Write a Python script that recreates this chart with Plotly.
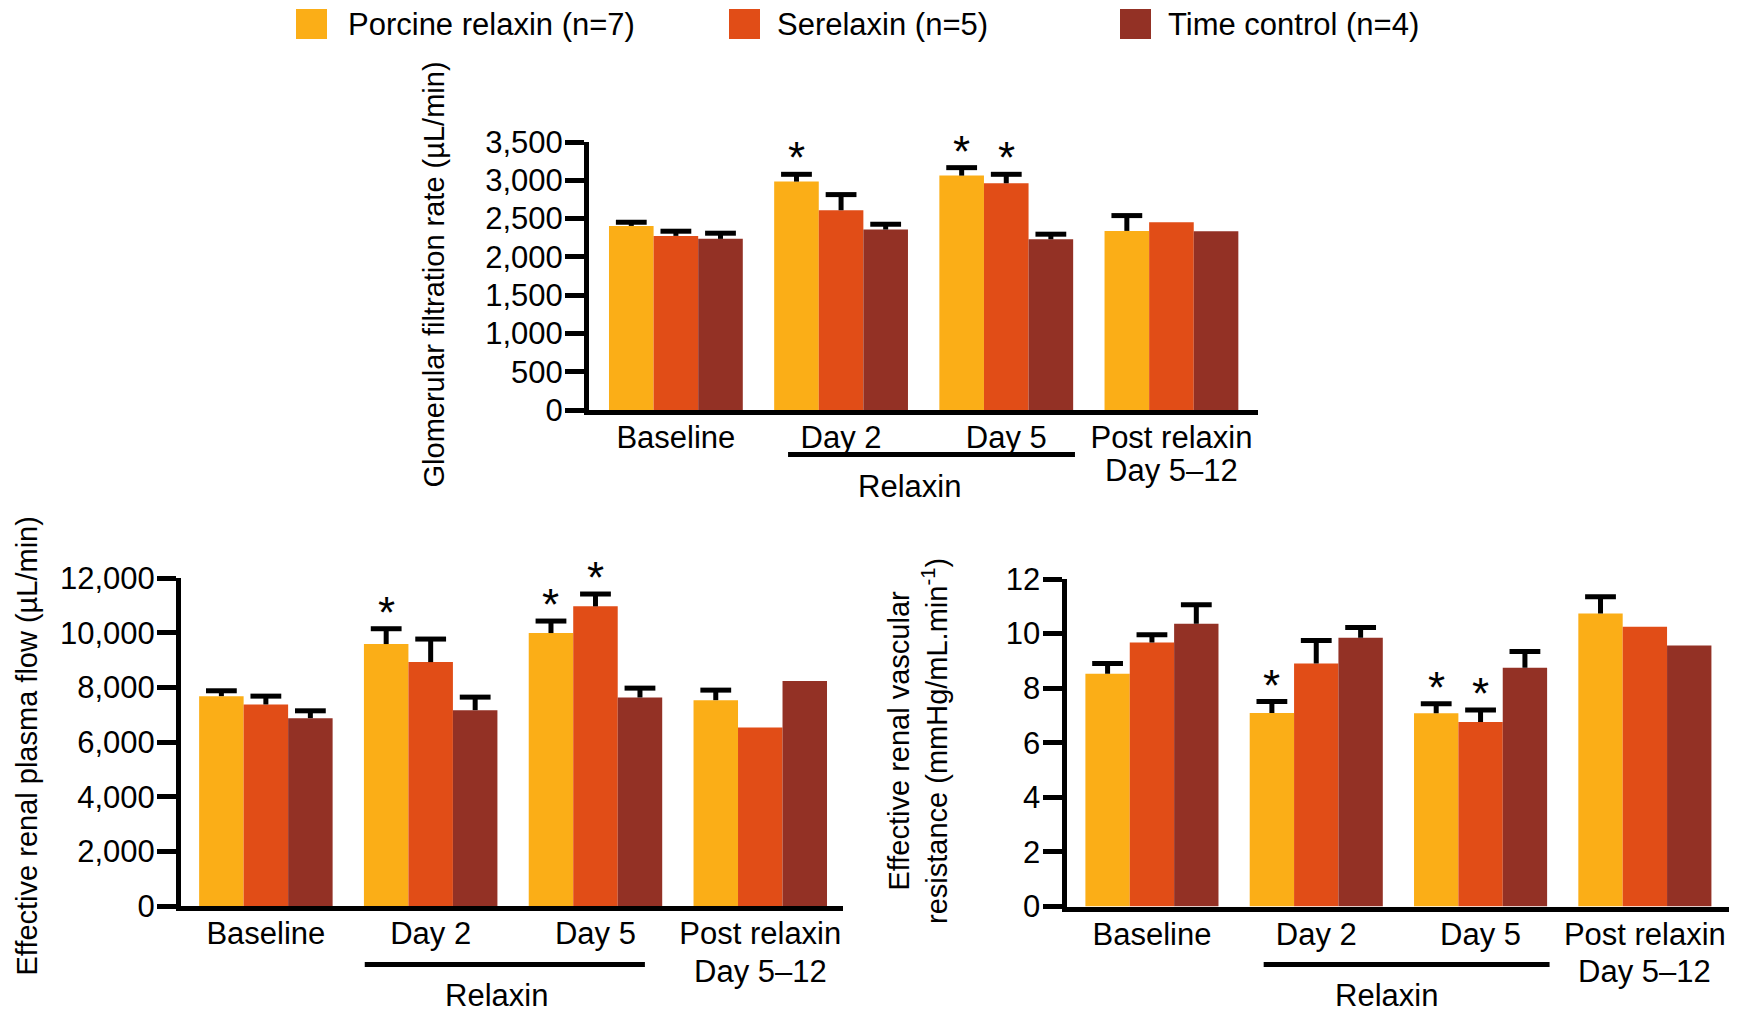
import plotly.graph_objects as go

W, H = 1746, 1013
FONT = "Liberation Sans, Arial, Helvetica, sans-serif"

categories = ["Baseline", "Day 2", "Day 5", "Post relaxin"]
category_sublabels = ["", "", "", "Day 5–12"]
series_names = ["Porcine relaxin (n=7)", "Serelaxin (n=5)", "Time control (n=4)"]
colors = ["#FBAE17", "#E14D17", "#933125"]

# Glomerular filtration rate (µL/min)
gfr_porcine = [2404, 2983, 3061, 2339]
gfr_porcine_err = [48, 95, 104, 200]
gfr_serelaxin = [2274, 2609, 2961, 2452]
gfr_serelaxin_err = [61, 204, 117, None]
gfr_control = [2235, 2357, 2230, 2335]
gfr_control_err = [74, 69, 66, None]
gfr_ticks = [0, 500, 1000, 1500, 2000, 2500, 3000, 3500]

# Effective renal plasma flow (µL/min)
erpf_porcine = [7678, 9583, 9986, 7532]
erpf_porcine_err = [196, 561, 439, 366]
erpf_serelaxin = [7373, 8924, 10962, 6531]
erpf_serelaxin_err = [305, 842, 452, None]
erpf_control = [6873, 7166, 7630, 8228]
erpf_control_err = [268, 476, 341, None]
erpf_ticks = [0, 2000, 4000, 6000, 8000, 10000, 12000]

# Effective renal vascular resistance (mmHg/mL.min-1)
ervr_porcine = [8.53, 7.09, 7.08, 10.74]
ervr_porcine_err = [0.37, 0.42, 0.35, 0.61]
ervr_serelaxin = [9.67, 8.90, 6.76, 10.25]
ervr_serelaxin_err = [0.29, 0.85, 0.44, None]
ervr_control = [10.36, 9.85, 8.75, 9.56]
ervr_control_err = [0.70, 0.37, 0.59, None]
ervr_ticks = [0, 2, 4, 6, 8, 10, 12]

# significance markers: (category index, series index)
gfr_sig = [(1, 0), (2, 0), (2, 1)]
erpf_sig = [(1, 0), (2, 0), (2, 1)]
ervr_sig = [(1, 0), (2, 0), (2, 1)]

BARGAP = 0.19


def px_x(p):
    return p / W


def px_y(p):
    return 1 - p / H


panels = [
    dict(ax="", means=[gfr_porcine, gfr_serelaxin, gfr_control],
         errs=[gfr_porcine_err, gfr_serelaxin_err, gfr_control_err],
         ticks=gfr_ticks, fmt=",d", sig=gfr_sig,
         xdom=(589, 1258), ydom=(142, 410), xr=(-0.526, 3.524),
         bracket=(0.679, 2.416), bracket_y=454.5, relaxin_x=1.417, relaxin_y=487,
         sub_y=471,
         title="Glomerular filtration rate (µL/min)", title_xy=(433, 274.5)),
    dict(ax="2", means=[erpf_porcine, erpf_serelaxin, erpf_control],
         errs=[erpf_porcine_err, erpf_serelaxin_err, erpf_control_err],
         ticks=erpf_ticks, fmt=",d", sig=erpf_sig,
         xdom=(181, 843), ydom=(578, 906), xr=(-0.515, 3.502),
         bracket=(0.60, 2.30), bracket_y=964.5, relaxin_x=1.40, relaxin_y=995.5,
         sub_y=971,
         title="Effective renal plasma flow (µL/min)", title_xy=(26.5, 746)),
    dict(ax="3", means=[ervr_porcine, ervr_serelaxin, ervr_control],
         errs=[ervr_porcine_err, ervr_serelaxin_err, ervr_control_err],
         ticks=ervr_ticks, fmt="d", sig=ervr_sig,
         xdom=(1066.5, 1729), ydom=(579, 906.5), xr=(-0.52, 3.512),
         bracket=(0.68, 2.42), bracket_y=964.5, relaxin_x=1.425, relaxin_y=995.5,
         sub_y=971,
         title="Effective renal vascular<br>resistance (mmHg/mL.min<sup>-1</sup>)",
         title_xy=(918, 741)),
]

fig = go.Figure()
annotations = []
shapes = []

for p in panels:
    xa = "x" + p["ax"]
    ya = "y" + p["ax"]
    for i in range(3):
        fig.add_trace(go.Bar(
            x=categories, y=p["means"][i], name=series_names[i],
            marker=dict(color=colors[i], line=dict(width=0)),
            offsetgroup=str(i), xaxis=xa, yaxis=ya, showlegend=False,
        ))
    for i in range(3):
        tops = [m + e if e is not None else None for m, e in zip(p["means"][i], p["errs"][i])]
        fig.add_trace(go.Scatter(
            x=categories, y=tops, mode="markers",
            marker=dict(symbol="line-ew", size=22, color="black",
                        line=dict(width=5, color="black")),
            error_y=dict(type="data", symmetric=False,
                         array=[0 if e is not None else None for e in p["errs"][i]],
                         arrayminus=p["errs"][i], width=0, thickness=5, color="black"),
            offsetgroup=str(i), xaxis=xa, yaxis=ya, showlegend=False,
            hoverinfo="skip",
        ))
    bw = (1 - BARGAP) / 3
    for (ci, si) in p["sig"]:
        top = p["means"][si][ci] + p["errs"][si][ci]
        annotations.append(dict(
            x=ci + (si - 1) * bw, y=top, xref=xa, yref=ya, text="*",
            showarrow=False, yanchor="bottom", xanchor="center", yshift=-10,
            font=dict(family=FONT, size=44, color="black"),
        ))
    # second line of category labels
    for ci, sub in enumerate(category_sublabels):
        if sub:
            annotations.append(dict(
                x=ci, y=px_y(p["sub_y"]), xref=xa, yref="paper", text=sub,
                showarrow=False, xanchor="center", yanchor="middle",
                font=dict(family=FONT, size=31, color="black")))
    # Relaxin bracket
    shapes.append(dict(type="line", xref=xa, yref="paper",
                       x0=p["bracket"][0], x1=p["bracket"][1],
                       y0=px_y(p["bracket_y"]), y1=px_y(p["bracket_y"]),
                       line=dict(color="black", width=5)))
    annotations.append(dict(
        x=p["relaxin_x"], y=px_y(p["relaxin_y"]),
        xref=xa, yref="paper", text="Relaxin", showarrow=False,
        xanchor="center", yanchor="middle", borderpad=0,
        font=dict(family=FONT, size=31, color="black")))
    annotations.append(dict(
        x=px_x(p["title_xy"][0]), y=px_y(p["title_xy"][1]), xref="paper", yref="paper",
        text=p["title"], textangle=-90, showarrow=False, xanchor="center", yanchor="middle",
        font=dict(family=FONT, size=29, color="black")))

    axis_common = dict(showline=True, linewidth=5, linecolor="black", showgrid=False,
                       zeroline=False, automargin=False)
    xkey = "xaxis" + p["ax"]
    ykey = "yaxis" + p["ax"]
    fig.update_layout(**{
        xkey: dict(domain=[px_x(p["xdom"][0]), px_x(p["xdom"][1])], anchor=ya,
                   range=list(p["xr"]), type="category", ticks="",
                   tickfont=dict(family=FONT, size=31, color="black"),
                   ticklabelstandoff=-4, **axis_common),
        ykey: dict(domain=[px_y(p["ydom"][1]), px_y(p["ydom"][0])], anchor=xa,
                   range=[0, p["ticks"][-1]], tickvals=p["ticks"], tickformat=p["fmt"],
                   ticks="outside", ticklen=19, tickwidth=5, tickcolor="black",
                   tickfont=dict(family=FONT, size=31, color="black"),
                   ticklabelstandoff=-4, **axis_common),
    })

# Legend drawn as swatches + labels
legend_items = [(296, 348), (729, 777), (1120, 1168)]
for (sx, tx), name, col in zip(legend_items, series_names, colors):
    shapes.append(dict(type="rect", xref="paper", yref="paper",
                       x0=px_x(sx), x1=px_x(sx + 31), y0=px_y(39), y1=px_y(9),
                       fillcolor=col, line=dict(width=0)))
    annotations.append(dict(x=px_x(tx), y=px_y(24), xref="paper", yref="paper",
                            text=name, showarrow=False, xanchor="left", yanchor="middle",
                            xshift=-2,
                            font=dict(family=FONT, size=31, color="black")))

fig.update_layout(
    width=W, height=H, autosize=False,
    margin=dict(l=0, r=0, t=0, b=0, pad=0, autoexpand=False),
    paper_bgcolor="white", plot_bgcolor="white",
    barmode="group", bargap=BARGAP, bargroupgap=0,
    scattermode="group", scattergap=BARGAP,
    showlegend=False, annotations=annotations, shapes=shapes,
    font=dict(family=FONT, color="black"),
)

fig.write_html(
    "out.html",
    config={"displayModeBar": False, "responsive": False},
    post_script="document.body.style.margin='0';document.body.style.overflow='hidden';",
)
